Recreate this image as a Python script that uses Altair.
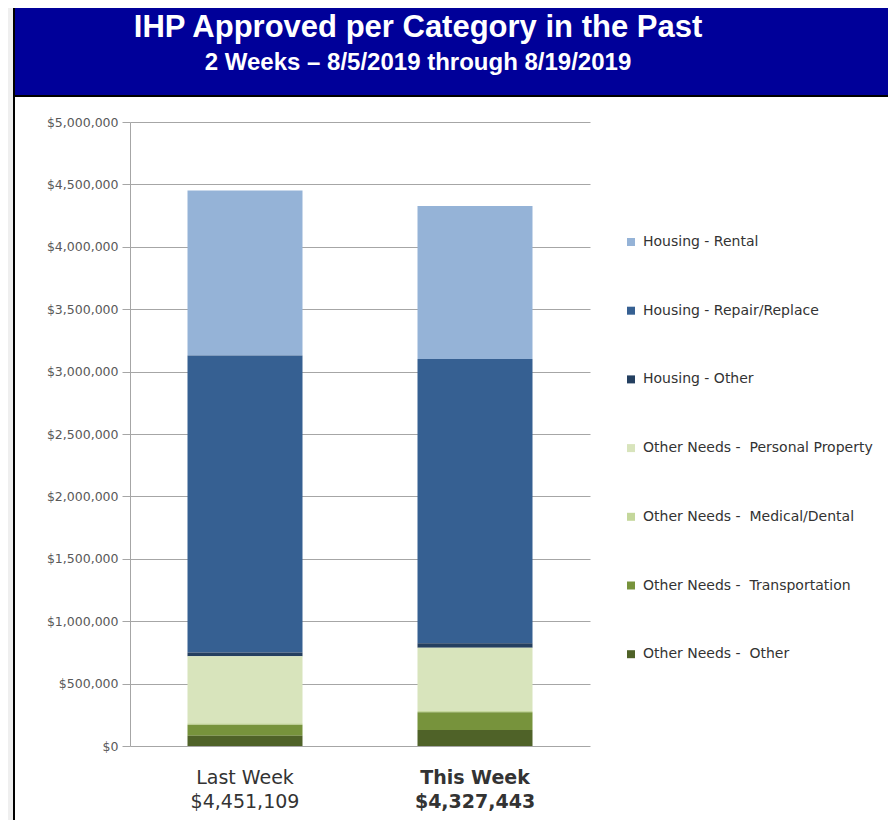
import altair as alt
import pandas as pd

title_text = "IHP Approved per Category in the Past"
subtitle_text = "2 Weeks \u2013 8/5/2019 through 8/19/2019"

weeks = ["Last Week", "This Week"]
categories = [
    "Housing - Rental",
    "Housing - Repair/Replace",
    "Housing - Other",
    "Other Needs -\u00a0 Personal Property",
    "Other Needs -\u00a0 Medical/Dental",
    "Other Needs -\u00a0 Transportation",
    "Other Needs -\u00a0 Other",
]
colors = ["#95B3D7", "#366092", "#243F60", "#D8E4BC", "#C4D79B", "#77933C", "#4F6228"]
last_week = [1321109, 2380000, 30000, 538000, 12000, 88000, 82000]
this_week = [1227443, 2277000, 35000, 508000, 10000, 142000, 128000]
y_ticks = [0, 500000, 1000000, 1500000, 2000000, 2500000, 3000000, 3500000, 4000000, 4500000, 5000000]

rows = []
for week, vals in zip(weeks, [last_week, this_week]):
    for i, (cat, v) in enumerate(zip(categories, vals)):
        rows.append({"week": week, "category": cat, "value": v, "rank": len(categories) - 1 - i})
df = pd.DataFrame(rows)

totals = {w: sum(v) for w, v in zip(weeks, [last_week, this_week])}
expr = "''"
for w in reversed(weeks):
    expr = f"datum.value == '{w}' ? [datum.value, '${totals[w]:,}'] : ({expr})"

one = pd.DataFrame({"k": [1]})

bars = alt.Chart(df).mark_bar().encode(
    x=alt.X(
        "week:N",
        sort=weeks,
        scale=alt.Scale(paddingInner=0.5, paddingOuter=0.25),
        axis=alt.Axis(
            title=None, labelAngle=0, domain=False, ticks=False,
            labelExpr=expr, labelFont="DejaVu Sans", labelFontSize=19,
            labelColor="#333333", labelPadding=22, labelLineHeight=24,
            labelFontWeight={"condition": {"test": "datum.value == 'This Week'", "value": "bold"}, "value": "normal"},
        ),
    ),
    y=alt.Y(
        "value:Q",
        stack="zero",
        scale=alt.Scale(domain=[0, 5000000], nice=False),
        axis=alt.Axis(
            title=None, values=y_ticks, format="$,.0f", grid=True,
            gridColor="#A6A6A6", domainColor="#A6A6A6", tickColor="#A6A6A6",
            tickSize=8, labelFont="DejaVu Sans", labelFontSize=12.5,
            labelColor="#595959", labelPadding=4,
        ),
    ),
    color=alt.Color(
        "category:N",
        scale=alt.Scale(domain=categories, range=colors),
        legend=alt.Legend(
            title=None, orient="none", legendX=494, legendY=113,
            symbolType="square", symbolSize=64, symbolStrokeWidth=0,
            labelFont="DejaVu Sans", labelFontSize=14, labelColor="#333333",
            rowPadding=54.7, labelLimit=400, labelOffset=5,
        ),
    ),
    order=alt.Order("rank:Q", sort="ascending"),
)

strip = alt.Chart(one).mark_rect(fill="#EFEFEF").encode(
    x=alt.value(-140), x2=alt.value(-117), y=alt.value(-140), y2=alt.value(800)
)
border = alt.Chart(one).mark_rule(color="black", strokeWidth=2).encode(
    x=alt.value(-116), y=alt.value(-140), y2=alt.value(800)
)
band = alt.Chart(one).mark_rect(fill="#000099", stroke="black", strokeWidth=2).encode(
    x=alt.value(-116), x2=alt.value(800), y=alt.value(-140), y2=alt.value(-26)
)
title = alt.Chart(one).mark_text(
    font="Liberation Sans", fontWeight="bold", fontSize=31, color="white",
    align="center", baseline="alphabetic"
).encode(x=alt.value(288), y=alt.value(-85), text=alt.value(title_text))
subtitle = alt.Chart(one).mark_text(
    font="Liberation Sans", fontWeight="bold", fontSize=24, color="white",
    align="center", baseline="alphabetic"
).encode(x=alt.value(288), y=alt.value(-52), text=alt.value(subtitle_text))

chart = alt.layer(strip, border, band, title, subtitle, bars).properties(
    width=460, height=624,
    autosize=alt.AutoSizeParams(type="none"),
    padding={"left": 122, "top": 114, "right": 298, "bottom": 74},
    background="white",
).configure_view(stroke=None)

chart.save("out.html", embed_options={"renderer": "svg", "actions": False})
